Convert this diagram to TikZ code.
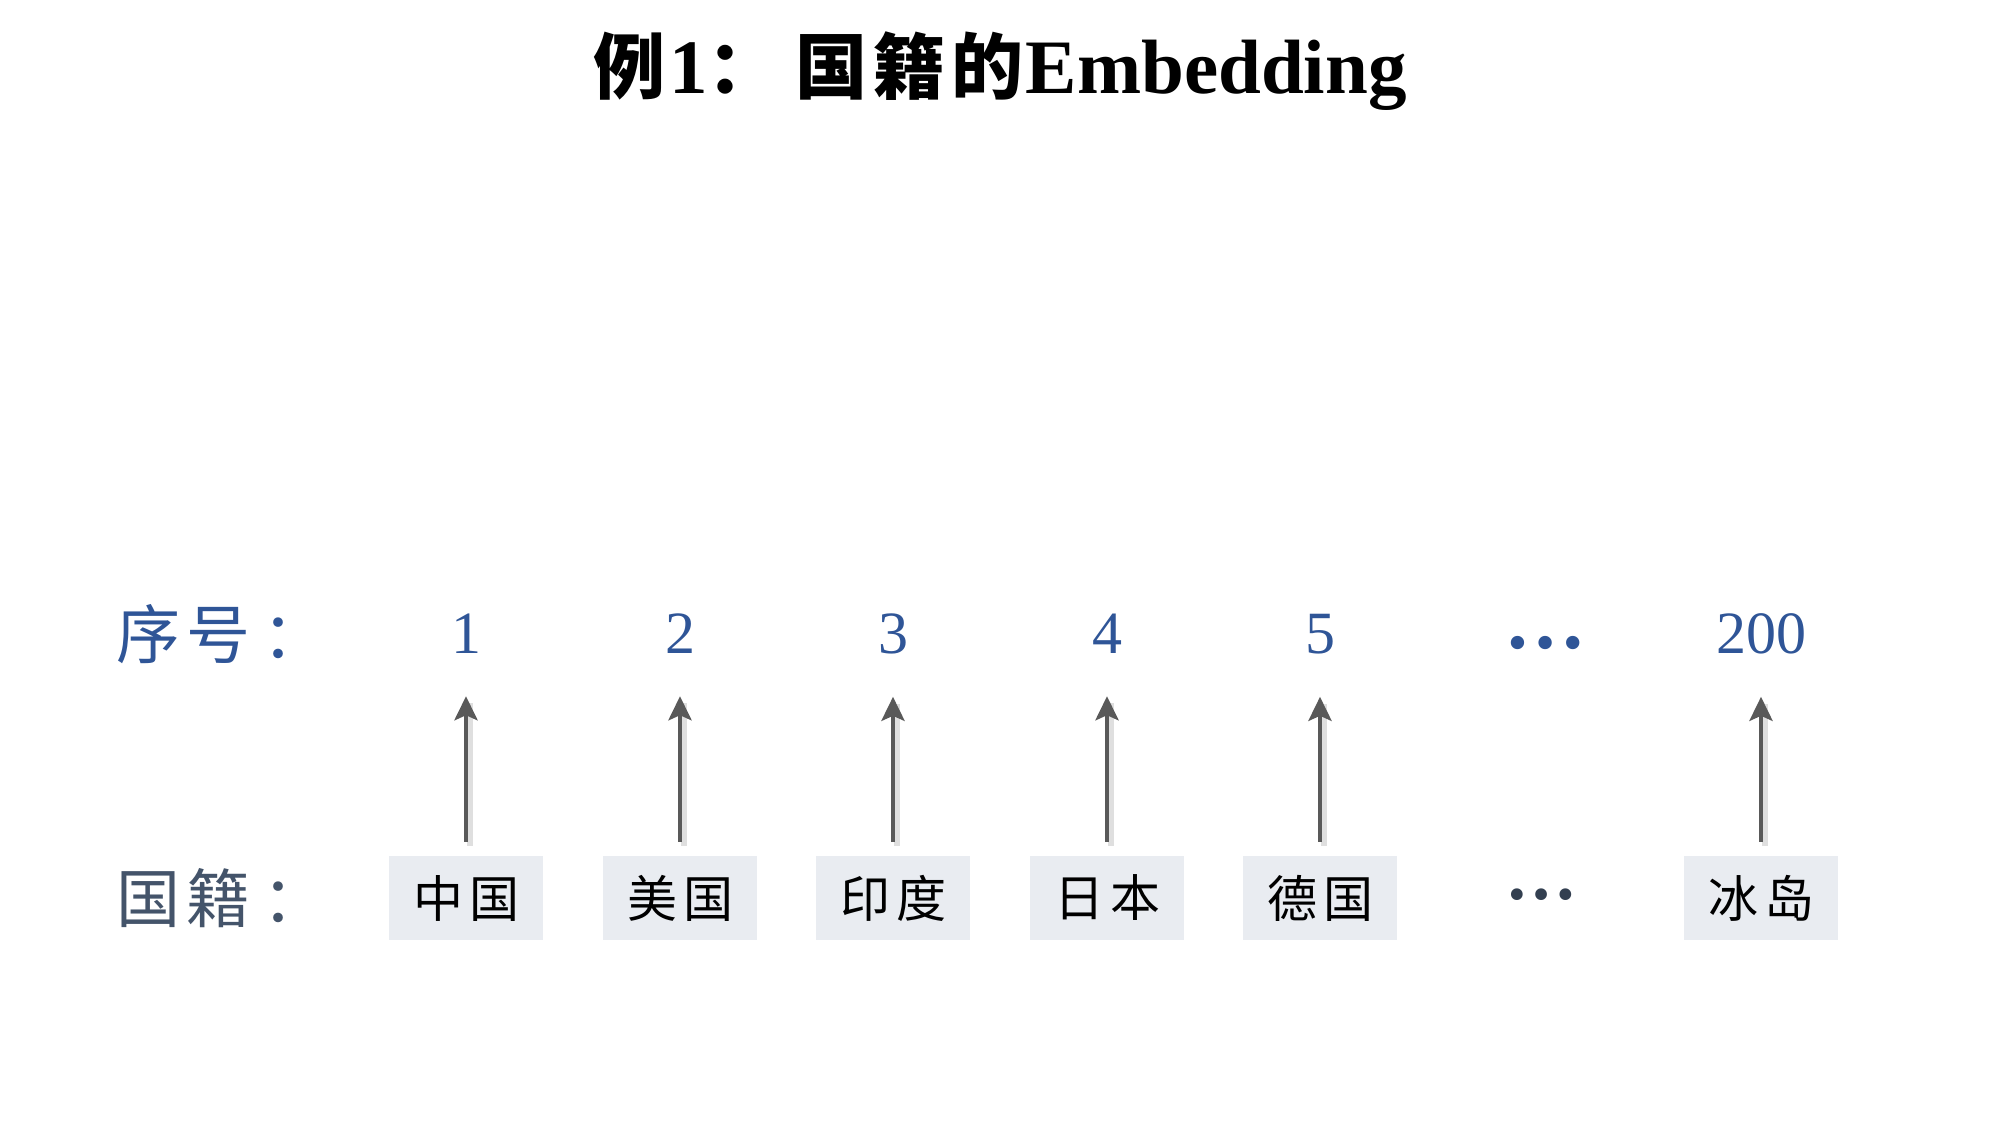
\documentclass[tikz,border=0pt]{standalone}
\usepackage{fontspec}
\setmainfont{Liberation Serif}
\newfontfamily\cjk{Noto Sans CJK SC}
\usetikzlibrary{arrows.meta}
\definecolor{blueT}{HTML}{2F5597}
\definecolor{slateT}{HTML}{44546A}
\definecolor{navyT}{HTML}{333F50}
\definecolor{boxF}{HTML}{E9ECF1}
\definecolor{arrC}{HTML}{595959}
\tikzset{
  num/.style={font=\fontsize{60}{60}\selectfont, text=blueT, inner sep=0pt, anchor=base},
  rowlbl/.style={font=\cjk\fontsize{64}{64}\selectfont, inner sep=0pt, anchor=west},
  cbox/.style={fill=boxF, minimum width=154pt, minimum height=84pt, inner sep=0pt,
     font=\cjk\fontsize{50}{50}\selectfont, text=black},
  arr/.style={draw=arrC, line width=4.5pt, -{Stealth[length=24pt,width=23pt,inset=5pt]},
     shorten <=14pt, shorten >=43pt},
  arrsh/.style={draw=black!25, opacity=0.5, line width=6pt, shorten <=10pt, shorten >=50pt}
}
\newcommand{\ttlcjk}{\cjk\bfseries\fontsize{72}{72}\selectfont}
\newcommand{\ttllat}{\bfseries\fontsize{77}{77}\selectfont}
\begin{document}
\begin{tikzpicture}[x=1pt,y=-1pt]
\useasboundingbox (0,0) rectangle (2000,1125);
\node[inner sep=0pt] (title) at (1000,71) {{\ttlcjk 例}\hspace{4pt}{\ttllat 1}{\ttlcjk ：\hspace{16pt}国\hspace{6pt}籍\hspace{6pt}的}\hspace{2pt}{\ttllat Embedding}};
\node[rowlbl, text=blueT] (lblA) at (116,634) {序\hspace{6pt}号\hspace{12pt}：};
\node[rowlbl, text=slateT] (lblB) at (116,898) {国\hspace{6pt}籍\hspace{12pt}：};
\foreach \i/\x/\t in {1/466/1,2/680/2,3/893/3,4/1107/4,5/1320/5,7/1761/200}{
  \node[num] (n\i) at (\x,653) {\t};
}
\node[num, font=\bfseries\fontsize{82}{82}\selectfont] (n6) at (1545,648) {…};
\node[font=\bfseries\fontsize{72}{72}\selectfont, text=navyT, inner sep=0pt, anchor=base] (b6) at (1541,899) {…};
\node[cbox] (b1) at (466,898) {中\hspace{6pt}国};
\node[cbox] (b2) at (680,898) {美\hspace{6pt}国};
\node[cbox] (b3) at (893,898) {印\hspace{6pt}度};
\node[cbox] (b4) at (1107,898) {日\hspace{6pt}本};
\node[cbox] (b5) at (1320,898) {德\hspace{6pt}国};
\node[cbox] (b7) at (1761,898) {冰\hspace{6pt}岛};
\foreach \i in {1,2,3,4,5,7}{
  \draw[arrsh] ([xshift=4pt]b\i.north) -- ([xshift=4pt]n\i.south);
  \draw[arr] (b\i.north) -- (n\i.south);
}
\end{tikzpicture}
\end{document}
